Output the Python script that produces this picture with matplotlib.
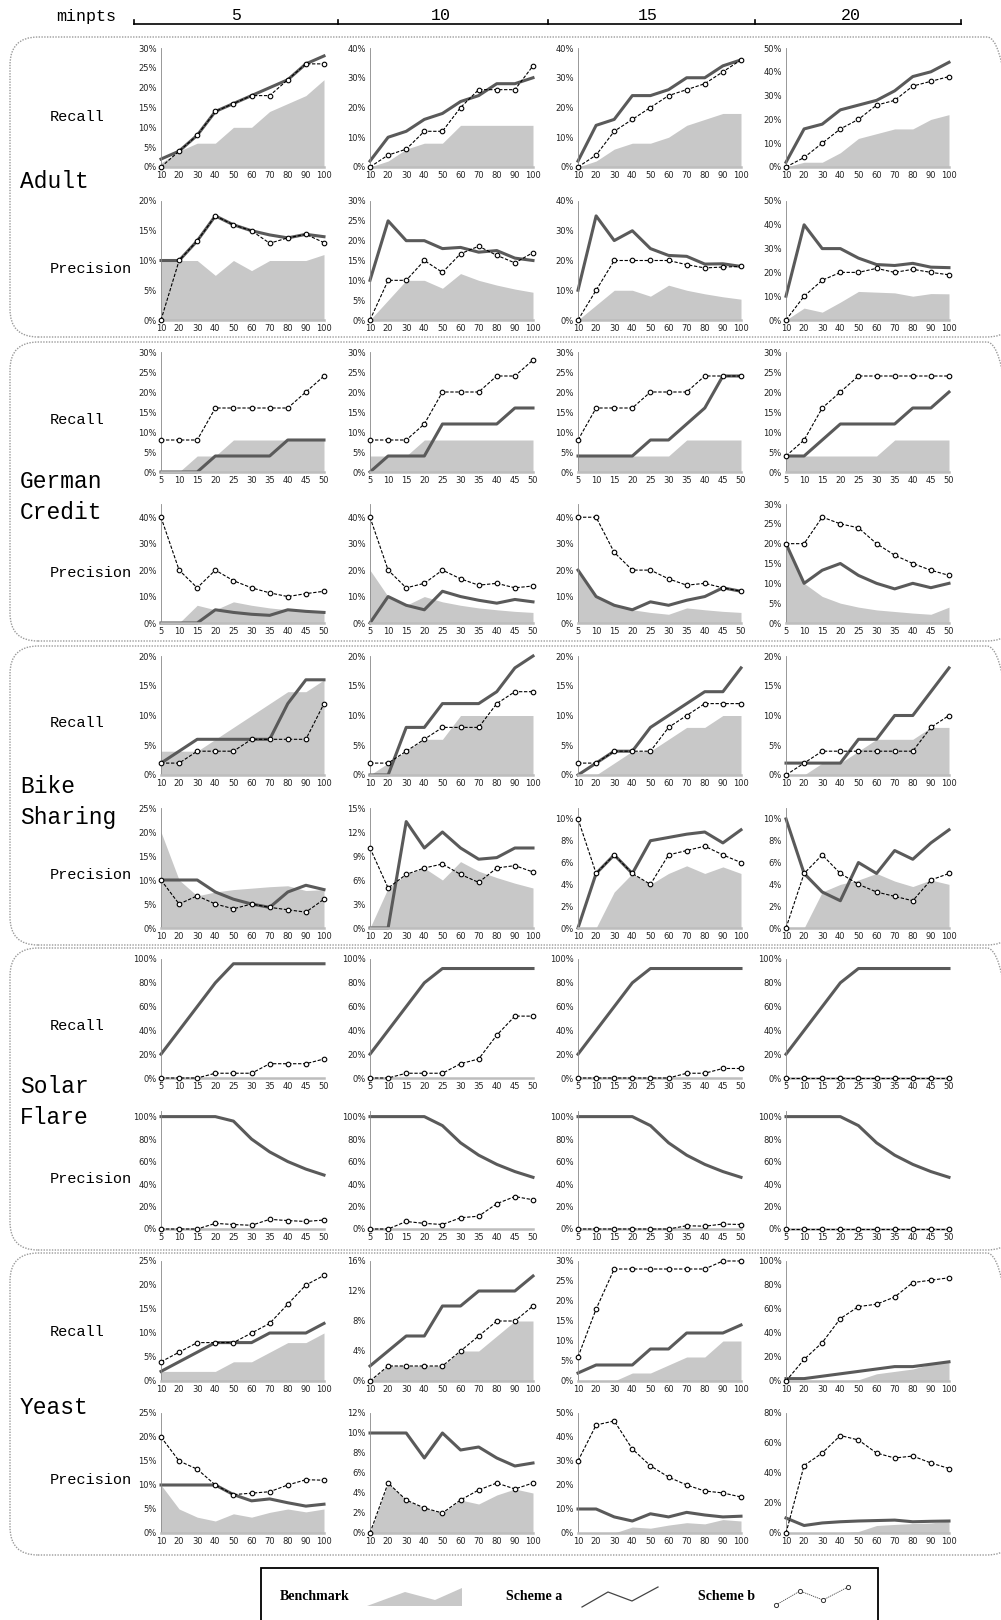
import numpy as np
import matplotlib.pyplot as plt
from matplotlib.patches import FancyBboxPatch, Polygon, Rectangle
from matplotlib.lines import Line2D
from matplotlib.ticker import PercentFormatter

plt.rcParams['font.family'] = 'DejaVu Sans'

minpts = ['5', '10', '15', '20']
datasets = ['Adult', 'German\nCredit', 'Bike\nSharing', 'Solar\nFlare', 'Yeast']
x_100 = [10, 20, 30, 40, 50, 60, 70, 80, 90, 100]
x_50 = [5, 10, 15, 20, 25, 30, 35, 40, 45, 50]

# values in %, one list per minpts column
adult_rec_bench = [[1, 4, 6, 6, 10, 10, 14, 16, 18, 22], [0, 2, 6, 8, 8, 14, 14, 14, 14, 14],
                   [0, 2, 6, 8, 8, 10, 14, 16, 18, 18], [0, 2, 2, 6, 12, 14, 16, 16, 20, 22]]
adult_rec_a = [[2, 4, 8, 14, 16, 18, 20, 22, 26, 28], [2, 10, 12, 16, 18, 22, 24, 28, 28, 30],
               [2, 14, 16, 24, 24, 26, 30, 30, 34, 36], [2, 16, 18, 24, 26, 28, 32, 38, 40, 44]]
adult_rec_b = [[0, 4, 8, 14, 16, 18, 18, 22, 26, 26], [0, 4, 6, 12, 12, 20, 26, 26, 26, 34],
               [0, 4, 12, 16, 20, 24, 26, 28, 32, 36], [0, 4, 10, 16, 20, 26, 28, 34, 36, 38]]
adult_pre_bench = [[10, 10, 10, 7.5, 10, 8.3, 10, 10, 10, 11], [0, 5, 10, 10, 8, 11.7, 10, 8.8, 7.8, 7],
                   [0, 5, 10, 10, 8, 11.7, 10, 8.8, 7.8, 7], [0, 5, 3.3, 7.5, 12, 11.7, 11.4, 10, 11.1, 11]]
adult_pre_a = [[10, 10, 13.3, 17.5, 16, 15, 14.3, 13.8, 14.4, 14], [10, 25, 20, 20, 18, 18.3, 17.1, 17.5, 15.6, 15],
               [10, 35, 26.7, 30, 24, 21.7, 21.4, 18.8, 18.9, 18], [10, 40, 30, 30, 26, 23.3, 22.9, 23.8, 22.2, 22]]
adult_pre_b = [[0, 10, 13.3, 17.5, 16, 15, 12.9, 13.8, 14.4, 13], [0, 10, 10, 15, 12, 16.7, 18.6, 16.3, 14.4, 17],
               [0, 10, 20, 20, 20, 20, 18.6, 17.5, 17.8, 18], [0, 10, 16.7, 20, 20, 21.7, 20, 21.3, 20, 19]]

german_rec_bench = [[0, 0, 4, 4, 8, 8, 8, 8, 8, 8], [4, 4, 4, 8, 8, 8, 8, 8, 8, 8],
                    [4, 4, 4, 4, 4, 4, 8, 8, 8, 8], [4, 4, 4, 4, 4, 4, 8, 8, 8, 8]]
german_rec_a = [[0, 0, 0, 4, 4, 4, 4, 8, 8, 8], [0, 4, 4, 4, 12, 12, 12, 12, 16, 16],
                [4, 4, 4, 4, 8, 8, 12, 16, 24, 24], [4, 4, 8, 12, 12, 12, 12, 16, 16, 20]]
german_rec_b = [[8, 8, 8, 16, 16, 16, 16, 16, 20, 24], [8, 8, 8, 12, 20, 20, 20, 24, 24, 28],
                [8, 16, 16, 16, 20, 20, 20, 24, 24, 24], [4, 8, 16, 20, 24, 24, 24, 24, 24, 24]]
german_pre_bench = [[0, 0, 6.7, 5, 8, 6.7, 5.7, 5, 4.4, 4], [20, 10, 6.7, 10, 8, 6.7, 5.7, 5, 4.4, 4],
                    [20, 10, 6.7, 5, 4, 3.3, 5.7, 5, 4.4, 4], [20, 10, 6.7, 5, 4, 3.3, 2.9, 2.5, 2.2, 4]]
german_pre_a = [[0, 0, 0, 5, 4, 3.3, 2.9, 5, 4.4, 4], [0, 10, 6.7, 5, 12, 10, 8.6, 7.5, 8.9, 8],
                [20, 10, 6.7, 5, 8, 6.7, 8.6, 10, 13.3, 12], [20, 10, 13.3, 15, 12, 10, 8.6, 10, 8.9, 10]]
german_pre_b = [[40, 20, 13.3, 20, 16, 13.3, 11.4, 10, 11.1, 12], [40, 20, 13.3, 15, 20, 16.7, 14.3, 15, 13.3, 14],
                [40, 40, 26.7, 20, 20, 16.7, 14.3, 15, 13.3, 12], [20, 20, 26.7, 25, 24, 20, 17.1, 15, 13.3, 12]]

bike_rec_bench = [[4, 4, 4, 6, 8, 10, 12, 14, 14, 16], [0, 2, 4, 6, 6, 10, 10, 10, 10, 10],
                  [0, 0, 2, 4, 4, 6, 8, 8, 10, 10], [0, 0, 2, 2, 4, 6, 6, 6, 8, 8]]
bike_rec_a = [[2, 4, 6, 6, 6, 6, 6, 12, 16, 16], [0, 0, 8, 8, 12, 12, 12, 14, 18, 20],
              [0, 2, 4, 4, 8, 10, 12, 14, 14, 18], [2, 2, 2, 2, 6, 6, 10, 10, 14, 18]]
bike_rec_b = [[2, 2, 4, 4, 4, 6, 6, 6, 6, 12], [2, 2, 4, 6, 8, 8, 8, 12, 14, 14],
              [2, 2, 4, 4, 4, 8, 10, 12, 12, 12], [0, 2, 4, 4, 4, 4, 4, 4, 8, 10]]
bike_pre_bench = [[20, 10, 6.7, 7.5, 8, 8.3, 8.6, 8.8, 7.8, 8], [0, 5, 6.7, 7.5, 6, 8.3, 7.1, 6.3, 5.6, 5],
                  [0, 0, 3.3, 5, 4, 5, 5.7, 5, 5.6, 5], [0, 0, 3.3, 4, 4.4, 5, 4.3, 3.8, 4.4, 4]]
bike_pre_a = [[10, 10, 10, 7.5, 6, 5, 4.3, 7.5, 8.9, 8], [0, 0, 13.3, 10, 12, 10, 8.6, 8.8, 10, 10],
              [0, 5, 6.7, 5, 8, 8.3, 8.6, 8.8, 7.8, 9], [10, 5, 3.3, 2.5, 6, 5, 7.1, 6.3, 7.8, 9]]
bike_pre_b = [[10, 5, 6.7, 5, 4, 5, 4.3, 3.8, 3.3, 6], [10, 5, 6.7, 7.5, 8, 6.7, 5.7, 7.5, 7.8, 7],
              [10, 5, 6.7, 5, 4, 6.7, 7.1, 7.5, 6.7, 6], [0, 5, 6.7, 5, 4, 3.3, 2.9, 2.5, 4.4, 5]]

solar_rec_bench = [[0] * 10, [0] * 10, [0] * 10, [0] * 10]
solar_rec_a = [[20, 40, 60, 80, 96, 96, 96, 96, 96, 96], [20, 40, 60, 80, 92, 92, 92, 92, 92, 92],
               [20, 40, 60, 80, 92, 92, 92, 92, 92, 92], [20, 40, 60, 80, 92, 92, 92, 92, 92, 92]]
solar_rec_b = [[0, 0, 0, 4, 4, 4, 12, 12, 12, 16], [0, 0, 4, 4, 4, 12, 16, 36, 52, 52],
               [0, 0, 0, 0, 0, 0, 4, 4, 8, 8], [0, 0, 0, 0, 0, 0, 0, 0, 0, 0]]
solar_pre_bench = [[0] * 10, [0] * 10, [0] * 10, [0] * 10]
solar_pre_a = [[100, 100, 100, 100, 96, 80, 68.6, 60, 53.3, 48], [100, 100, 100, 100, 92, 76.7, 65.7, 57.5, 51.1, 46],
               [100, 100, 100, 100, 92, 76.7, 65.7, 57.5, 51.1, 46], [100, 100, 100, 100, 92, 76.7, 65.7, 57.5, 51.1, 46]]
solar_pre_b = [[0, 0, 0, 5, 4, 3.3, 8.6, 7.5, 6.7, 8], [0, 0, 6.7, 5, 4, 10, 11.4, 22.5, 28.9, 26],
               [0, 0, 0, 0, 0, 0, 2.9, 2.5, 4.4, 4], [0, 0, 0, 0, 0, 0, 0, 0, 0, 0]]

yeast_rec_bench = [[2, 2, 2, 2, 4, 4, 6, 8, 8, 10], [0, 2, 2, 2, 2, 4, 4, 6, 8, 8],
                   [0, 0, 0, 2, 2, 4, 6, 6, 10, 10], [0, 0, 0, 0, 1, 6, 8, 10, 14, 16]]
yeast_rec_a = [[2, 4, 6, 8, 8, 8, 10, 10, 10, 12], [2, 4, 6, 6, 10, 10, 12, 12, 12, 14],
               [2, 4, 4, 4, 8, 8, 12, 12, 12, 14], [2, 2, 4, 6, 8, 10, 12, 12, 14, 16]]
yeast_rec_b = [[4, 6, 8, 8, 8, 10, 12, 16, 20, 22], [0, 2, 2, 2, 2, 4, 6, 8, 8, 10],
               [6, 18, 28, 28, 28, 28, 28, 28, 30, 30], [0, 18, 32, 52, 62, 64, 70, 82, 84, 86]]
yeast_pre_bench = [[10, 5, 3.3, 2.5, 4, 3.3, 4.3, 5, 4.4, 5], [0, 5, 3.3, 2.5, 2, 3.3, 2.9, 3.8, 4.4, 4],
                   [0, 0, 0, 2.5, 2, 3.3, 4.3, 3.8, 5.6, 5], [0, 0, 0, 0, 1, 5, 5.7, 6.3, 6.7, 8]]
yeast_pre_a = [[10, 10, 10, 10, 8, 6.7, 7.1, 6.3, 5.6, 6], [10, 10, 10, 7.5, 10, 8.3, 8.6, 7.5, 6.7, 7],
               [10, 10, 6.7, 5, 8, 6.7, 8.6, 7.5, 6.7, 7], [10, 5, 6.7, 7.5, 8, 8.3, 8.6, 7.5, 7.8, 8]]
yeast_pre_b = [[20, 15, 13.3, 10, 8, 8.3, 8.6, 10, 11.1, 11], [0, 5, 3.3, 2.5, 2, 3.3, 4.3, 5, 4.4, 5],
               [30, 45, 46.7, 35, 28, 23.3, 20, 17.5, 16.7, 15], [0, 45, 53.3, 65, 62, 53.3, 50, 51.3, 46.7, 43]]

# one entry per panel row: x values, series, y-limit and tick step per column
rows = [
    (x_100, adult_rec_bench, adult_rec_a, adult_rec_b, [30, 40, 40, 50], [5, 10, 10, 10]),
    (x_100, adult_pre_bench, adult_pre_a, adult_pre_b, [20, 30, 40, 50], [5, 5, 10, 10]),
    (x_50, german_rec_bench, german_rec_a, german_rec_b, [30, 30, 30, 30], [5, 5, 5, 5]),
    (x_50, german_pre_bench, german_pre_a, german_pre_b, [45, 45, 45, 30], [10, 10, 10, 5]),
    (x_100, bike_rec_bench, bike_rec_a, bike_rec_b, [20, 20, 20, 20], [5, 5, 5, 5]),
    (x_100, bike_pre_bench, bike_pre_a, bike_pre_b, [25, 15, 11, 11], [5, 3, 2, 2]),
    (x_50, solar_rec_bench, solar_rec_a, solar_rec_b, [100, 100, 100, 100], [20, 20, 20, 20]),
    (x_50, solar_pre_bench, solar_pre_a, solar_pre_b, [105, 105, 105, 105], [20, 20, 20, 20]),
    (x_100, yeast_rec_bench, yeast_rec_a, yeast_rec_b, [25, 16, 30, 100], [5, 4, 5, 20]),
    (x_100, yeast_pre_bench, yeast_pre_a, yeast_pre_b, [25, 12, 50, 80], [5, 2, 10, 20]),
]

W, H = 1001, 1620
fig = plt.figure(figsize=(W / 100, H / 100), dpi=100)
tr = fig.dpi_scale_trans


def P(x, y):
    # pixel position (from top-left) -> inches from bottom-left
    return x / 100, (H - y) / 100


mono = 'Liberation Mono'
col_left = [161, 370, 578, 786]
col_w = 163
row_px = [(48, 167), (201, 320), (352, 472), (504, 623), (656, 775),
          (808, 928), (959, 1078), (1111, 1229), (1261, 1381), (1413, 1533)]

for r, (xs, bench, sa, sb, ymax, step) in enumerate(rows):
    top, bot = row_px[r]
    for c in range(4):
        ax = fig.add_axes([col_left[c] / W, 1 - bot / H, col_w / W, (bot - top) / H])
        ax.patch.set_alpha(0)
        ax.fill_between(xs, 0, bench[c], color='#c8c8c8', lw=0, zorder=1)
        ax.plot(xs, sa[c], color='#5a5a5a', lw=2.2, zorder=2, clip_on=False)
        ax.plot(xs, sb[c], color='black', lw=0.8, ls=(0, (3, 1.5)), marker='o', ms=3.3,
                mfc='white', mec='black', mew=0.8, zorder=3, clip_on=False)
        ax.set_xlim(xs[0], xs[-1])
        ax.set_ylim(0, ymax[c])
        ax.set_xticks(xs)
        ax.set_yticks(np.arange(0, ymax[c] + 1e-9, step[c]))
        ax.yaxis.set_major_formatter(PercentFormatter(decimals=0))
        for s in ['top', 'right']:
            ax.spines[s].set_visible(False)
        ax.spines['left'].set_color('#888888')
        ax.spines['left'].set_linewidth(0.6)
        ax.spines['bottom'].set_color('#bdbdbd')
        ax.spines['bottom'].set_linewidth(1.8)
        ax.tick_params(labelsize=6, length=0, pad=3, colors='#222222')

# row labels
metric_y = [117, 269, 420, 573, 723, 875, 1026, 1179, 1332, 1480]
for i, y in enumerate(metric_y):
    fig.text(*P(50, y), 'Recall' if i % 2 == 0 else 'Precision', transform=tr,
             family=mono, fontsize=11, va='center', ha='left')

name_y = [182, 497, 802, 1102, 1407]
for name, y in zip(datasets, name_y):
    fig.text(*P(20, y), name, transform=tr, family=mono, fontsize=16.5,
             va='center', ha='left', linespacing=1.45)

# dotted rounded group boxes
boxes = [(37, 337), (342, 641), (646, 945), (948, 1250), (1253, 1555)]
for y0, y1 in boxes:
    bx, by = P(10, y1)
    fig.add_artist(FancyBboxPatch((bx, by), (1015 - 10) / 100, (y1 - y0) / 100,
                                  boxstyle='round,pad=0,rounding_size=0.28', transform=tr,
                                  fill=False, ec='#9a9a9a', lw=1.0, ls=(0, (1, 1))))

# minpts header
fig.text(*P(56, 16), 'minpts', transform=tr, family=mono, fontsize=12, va='center', ha='left')
fig.add_artist(Line2D([P(134, 24)[0], P(961, 24)[0]], [P(134, 24)[1]] * 2, transform=tr,
                      color='black', lw=1.2))
for xt in [134, 338, 548, 755, 961]:
    fig.add_artist(Line2D([xt / 100] * 2, [P(0, 24)[1], P(0, 20)[1]], transform=tr,
                          color='black', lw=1.2))
for xl, lab in zip([236, 441, 648, 851], minpts):
    fig.text(*P(xl, 15), lab, transform=tr, family=mono, fontsize=12, va='center', ha='center')

# legend box
lx, ly = P(261, 1640)
fig.add_artist(Rectangle((lx, ly), (878 - 261) / 100, (1640 - 1568) / 100, transform=tr,
                         fill=False, ec='black', lw=1.3))
leg_font = dict(family='Liberation Serif', fontsize=10, weight='bold', va='center', ha='left', transform=tr)
fig.text(*P(280, 1596), 'Benchmark', **leg_font)
fig.text(*P(506, 1596), 'Scheme a', **leg_font)
fig.text(*P(698, 1596), 'Scheme b', **leg_font)
fig.add_artist(Polygon([P(367, 1606), P(405, 1592), P(435, 1600), P(462, 1588), P(462, 1606)],
                       closed=True, transform=tr, fc='#c8c8c8', ec='none'))
ia = [P(582, 1607), P(608, 1592), P(632, 1601), P(658, 1587)]
fig.add_artist(Line2D([p[0] for p in ia], [p[1] for p in ia], transform=tr, color='#444444', lw=0.9))
ib = [P(776, 1605), P(800, 1591), P(823, 1600), P(848, 1587)]
fig.add_artist(Line2D([p[0] for p in ib], [p[1] for p in ib], transform=tr, color='#444444', lw=0.6,
                      ls=(0, (1.5, 1)), marker='o', ms=3, mfc='white', mec='#333333', mew=0.7))

fig.savefig('out.png', dpi=100)
